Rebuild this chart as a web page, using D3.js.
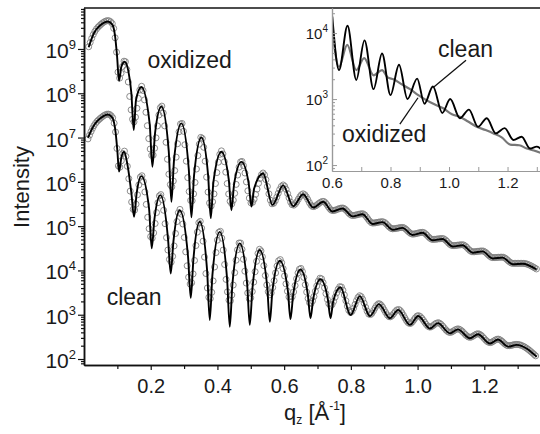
<!DOCTYPE html>
<html>
<head>
<meta charset="utf-8">
<script src="https://cdn.jsdelivr.net/npm/d3@7"></script>
<style>
  html, body { margin: 0; padding: 0; background: #fff; }
  svg { display: block; font-family: "Liberation Sans", Arial, sans-serif; }
</style>
</head>
<body>
<svg id="chart" width="540" height="434"></svg>
<script>
// Values. Intensities are kept as log10 (decades).

// main panel: fitted curves (black lines)
const qCleanFit = [0.012,0.03,0.05,0.072,0.085,0.095,0.100,0.105,0.112,0.120,0.130,0.142,0.150,0.158,0.172,0.195,0.203,0.211,0.229,0.252,0.260,0.268,0.287,0.312,0.320,0.328,0.347,0.369,0.377,0.385,0.407,0.429,0.437,0.445,0.467,0.489,0.497,0.505,0.527,0.549,0.557,0.565,0.587,0.611,0.619,0.627,0.649,0.671,0.679,0.687,0.709,0.731,0.739,0.747,0.769,0.799,0.827,0.857,0.884,0.917,0.942,0.977,1.002,1.037,1.061,1.097,1.121,1.157,1.181,1.217,1.241,1.272,1.297,1.357]
const logCleanFit = [7.00,7.28,7.44,7.52,7.45,7.10,6.70,6.23,6.55,6.68,6.40,5.75,5.21,5.75,6.13,5.40,4.50,5.15,5.70,4.70,3.93,4.65,5.36,4.30,3.38,4.25,5.10,4.00,2.88,3.90,4.87,3.80,2.73,3.70,4.61,3.70,2.77,3.60,4.46,3.65,2.84,3.55,4.22,3.55,2.90,3.45,4.02,3.45,2.92,3.35,3.80,3.35,2.92,3.30,3.62,2.99,3.42,2.97,3.24,2.92,3.11,2.77,2.97,2.69,2.81,2.58,2.67,2.47,2.56,2.35,2.44,2.28,2.32,2.05]

const qOxFit = [0.014,0.03,0.05,0.072,0.085,0.093,0.099,0.105,0.112,0.122,0.133,0.142,0.149,0.156,0.172,0.197,0.205,0.213,0.232,0.254,0.262,0.270,0.292,0.314,0.322,0.330,0.352,0.372,0.380,0.388,0.412,0.434,0.442,0.450,0.472,0.494,0.502,0.510,0.537,0.565,0.597,0.627,0.657,0.687,0.717,0.745,0.775,0.805,0.835,0.865,0.895,0.925,0.955,0.985,1.015,1.045,1.075,1.105,1.135,1.165,1.195,1.225,1.255,1.285,1.315,1.357]
const logOxFit = [9.04,9.36,9.54,9.62,9.55,9.30,8.85,8.28,8.60,8.71,8.50,8.00,7.17,7.85,8.14,7.30,6.34,7.10,7.70,6.70,5.55,6.50,7.32,6.30,5.20,6.15,7.00,6.15,5.18,6.00,6.68,6.05,5.36,5.95,6.45,5.95,5.44,5.85,6.19,5.48,5.92,5.45,5.72,5.42,5.55,5.33,5.40,5.22,5.27,5.05,5.09,4.92,4.96,4.80,4.85,4.68,4.71,4.54,4.57,4.40,4.43,4.27,4.29,4.14,4.15,4.02]

// main panel: measured data (open circles), peaks and minima
const qCleanData = [0.012,0.03,0.05,0.072,0.085,0.095,0.105,0.120,0.150,0.172,0.203,0.229,0.260,0.287,0.320,0.347,0.377,0.407,0.437,0.467,0.497,0.527,0.557,0.587,0.619,0.649,0.679,0.709,0.739,0.769,0.799,0.827,0.857,0.884,0.917,0.942,0.977,1.002,1.037,1.061,1.097,1.121,1.157,1.181,1.217,1.241,1.272,1.297,1.357]
const logCleanData = [6.97,7.27,7.44,7.53,7.46,7.10,6.30,6.70,5.35,6.15,4.72,5.72,4.18,5.38,3.68,5.12,3.35,4.90,3.30,4.64,3.35,4.48,3.45,4.25,3.35,4.05,3.25,3.83,3.20,3.64,3.05,3.43,3.00,3.25,2.95,3.12,2.80,2.98,2.72,2.82,2.60,2.68,2.49,2.57,2.37,2.45,2.30,2.33,2.05]

const qOxData = [0.014,0.03,0.05,0.072,0.085,0.095,0.105,0.122,0.149,0.172,0.205,0.232,0.262,0.292,0.322,0.352,0.380,0.412,0.442,0.472,0.502,0.537,0.565,0.597,0.627,0.657,0.687,0.717,0.745,0.775,0.805,0.835,0.865,0.895,0.925,0.955,0.985,1.015,1.045,1.075,1.105,1.135,1.165,1.195,1.225,1.255,1.285,1.315,1.357]
const logOxData = [9.05,9.36,9.55,9.64,9.57,9.15,8.33,8.74,7.35,8.16,6.58,7.72,5.88,7.34,5.55,7.02,5.45,6.70,5.50,6.47,5.52,6.20,5.50,5.93,5.47,5.73,5.44,5.56,5.35,5.41,5.24,5.28,5.07,5.10,4.94,4.97,4.82,4.86,4.70,4.72,4.56,4.58,4.42,4.44,4.29,4.30,4.16,4.16,4.03]

// inset: raw curves, clean (black) and oxidized (grey)
const qInsetClean = [0.601,0.624,0.653,0.683,0.711,0.742,0.771,0.800,0.829,0.858,0.891,0.916,0.945,0.977,1.004,1.037,1.068,1.099,1.129,1.160,1.19,1.22,1.248,1.277,1.30,1.33]
const logInsetClean = [4.25,3.44,4.11,3.29,3.89,3.15,3.69,3.06,3.52,3.00,3.31,2.93,3.19,2.79,3.00,2.71,2.84,2.58,2.71,2.48,2.56,2.38,2.43,2.25,2.28,2.15]

const qInsetOx = [0.601,0.624,0.652,0.683,0.71,0.742,0.771,0.79,0.81,0.84,0.867,0.895,0.924,0.95,0.98,1.01,1.038,1.065,1.095,1.125,1.152,1.18,1.209,1.24,1.266,1.29,1.33]
const logInsetOx = [4.05,3.49,3.82,3.44,3.62,3.36,3.44,3.33,3.30,3.22,3.15,3.06,2.98,2.92,2.86,2.77,2.73,2.66,2.58,2.53,2.48,2.42,2.31,2.30,2.25,2.22,2.16]

// ticks
const xMajor = [0.2, 0.4, 0.6, 0.8, 1.0, 1.2]
const xMinor = [0.1, 0.3, 0.5, 0.7, 0.9, 1.1, 1.3]
const yDecades = [2, 3, 4, 5, 6, 7, 8, 9]
const insetXTicks = [0.6, 0.7, 0.8, 0.9, 1.0, 1.1, 1.2, 1.3]
const insetDecades = [2, 3, 4]

const svg = d3.select('#chart')
const pts = (qs, logs) => qs.map((q, i) => [q, Math.pow(10, logs[i])])

// ---- main panel ----
const x = d3.scaleLinear().domain([0, 1.37]).range([84, 541])
const y = d3.scaleLog().domain([Math.pow(10, 1.865), Math.pow(10, 9.925)]).range([365, 8])

const defs = svg.append('defs')
defs.append('clipPath').attr('id', 'mainClip')
    .append('rect').attr('x', 84).attr('y', 8).attr('width', 460).attr('height', 357)
defs.append('clipPath').attr('id', 'insetClip')
    .append('rect').attr('x', 332).attr('y', 8).attr('width', 212).attr('height', 163)

const line = d3.line().x(d => x(d[0])).y(d => y(d[1])).curve(d3.curveMonotoneX)
const plot = svg.append('g').attr('clip-path', 'url(#mainClip)')

// put an open circle every dx pixels of q along a measured curve
function markersAlong(node, dx) {
    const len = node.getTotalLength()
    const out = []
    let next = -Infinity
    for (let s = 0; s <= len; s += 0.5) {
        const p = node.getPointAtLength(s)
        if (p.x >= next) { out.push([p.x, p.y]); next = p.x + dx }
    }
    return out
}

;[pts(qOxData, logOxData), pts(qCleanData, logCleanData)].forEach(series => {
    const guide = plot.append('path').attr('d', line(series)).attr('fill', 'none').attr('stroke', 'none')
    plot.append('g').selectAll('circle')
        .data(markersAlong(guide.node(), 1.4))
        .join('circle')
        .attr('cx', d => d[0]).attr('cy', d => d[1]).attr('r', 3)
        .attr('fill', 'none').attr('stroke', '#7f7f7f').attr('stroke-width', 0.9)
})

;[pts(qOxFit, logOxFit), pts(qCleanFit, logCleanFit)].forEach(series => {
    plot.append('path').attr('d', line(series))
        .attr('fill', 'none').attr('stroke', '#000').attr('stroke-width', 1.9)
        .attr('stroke-linejoin', 'round')
})

// axes
const axisStyle = g => {
    g.select('.domain').attr('stroke', '#111').attr('stroke-width', 1.5)
    g.selectAll('.tick line').attr('stroke', '#111').attr('stroke-width', 1.2)
    g.selectAll('.tick text').attr('fill', '#1a1a1a')
}

svg.append('g').attr('transform', 'translate(0,365)')
    .call(d3.axisBottom(x).tickValues(xMinor).tickSize(4).tickSizeOuter(0).tickFormat(''))
    .call(axisStyle)
svg.append('g').attr('transform', 'translate(0,365)')
    .call(d3.axisBottom(x).tickValues(xMajor).tickSize(5).tickSizeOuter(0).tickPadding(9).tickFormat(d3.format('.1f')))
    .call(axisStyle)
    .call(g => g.selectAll('.tick text').style('font-size', '20px').attr('font-family', null))

const yMinor = []
for (let e = 1; e <= 9; e++)
    for (let k = 2; k <= 9; k++) {
        const v = k * Math.pow(10, e)
        if (v >= y.domain()[0] && v <= y.domain()[1]) yMinor.push(v)
    }

svg.append('g').attr('transform', 'translate(84,0)')
    .call(d3.axisLeft(y).tickValues(yMinor).tickSize(3).tickSizeOuter(0).tickFormat(''))
    .call(axisStyle)
svg.append('g').attr('transform', 'translate(84,0)')
    .call(d3.axisLeft(y).tickValues(yDecades.map(e => Math.pow(10, e))).tickSize(6).tickSizeOuter(0).tickFormat(''))
    .call(axisStyle)

const yLabels = svg.append('g').attr('fill', '#1a1a1a')
yDecades.forEach(e => {
    const t = yLabels.append('text').attr('x', 76).attr('y', y(Math.pow(10, e)) + 9)
        .attr('text-anchor', 'end').style('font-size', '21px')
    t.append('tspan').text('10')
    t.append('tspan').attr('dy', -9).style('font-size', '13px').text(e)
})

// top frame line
svg.append('line').attr('x1', 84).attr('x2', 541).attr('y1', 8).attr('y2', 8)
    .attr('stroke', '#111').attr('stroke-width', 1.5)

// axis titles
svg.append('text').attr('transform', 'translate(29,187) rotate(-90)')
    .attr('text-anchor', 'middle').style('font-size', '22px').attr('fill', '#1a1a1a')
    .text('Intensity')

const xt = svg.append('text').attr('x', 315).attr('y', 420).attr('text-anchor', 'middle')
    .style('font-size', '22px').attr('fill', '#1a1a1a')
xt.append('tspan').text('q')
xt.append('tspan').attr('dy', 4).style('font-size', '12px').text('z')
xt.append('tspan').attr('dy', -4).text(' [Å')
xt.append('tspan').attr('dy', -10).style('font-size', '12px').text('-1')
xt.append('tspan').attr('dy', 10).text(']')

// curve labels
svg.append('text').attr('x', x(0.19)).attr('y', 68).style('font-size', '23px').attr('fill', '#1a1a1a').text('oxidized')
svg.append('text').attr('x', x(0.068)).attr('y', 305).style('font-size', '23px').attr('fill', '#1a1a1a').text('clean')

// ---- inset ----
const xi = d3.scaleLinear().domain([0.6, 1.34]).range([332, 548.5])
const yi = d3.scaleLog().domain([Math.pow(10, 1.91), Math.pow(10, 4.38)]).range([171, 8])
const lineI = d3.line().x(d => xi(d[0])).y(d => yi(d[1])).curve(d3.curveMonotoneX)

const inset = svg.append('g')
const insetPlot = inset.append('g').attr('clip-path', 'url(#insetClip)')
insetPlot.append('path').attr('d', lineI(pts(qInsetOx, logInsetOx)))
    .attr('fill', 'none').attr('stroke', '#777').attr('stroke-width', 2.2).attr('stroke-linejoin', 'round')
insetPlot.append('path').attr('d', lineI(pts(qInsetClean, logInsetClean)))
    .attr('fill', 'none').attr('stroke', '#000').attr('stroke-width', 1.9).attr('stroke-linejoin', 'round')

const insetStyle = g => {
    g.select('.domain').attr('stroke', '#999').attr('stroke-width', 1.2)
    g.selectAll('.tick line').attr('stroke', '#999')
    g.selectAll('.tick text').attr('fill', '#1a1a1a').attr('font-family', null).style('font-size', '15px')
}

const yiMinor = []
for (let e = 1; e <= 4; e++)
    for (let k = 2; k <= 9; k++) {
        const v = k * Math.pow(10, e)
        if (v >= yi.domain()[0] && v <= yi.domain()[1]) yiMinor.push(v)
    }

inset.append('g').attr('transform', 'translate(332,0)')
    .call(d3.axisLeft(yi).tickValues(yiMinor).tickSize(-3).tickSizeOuter(0).tickFormat(''))
    .call(insetStyle)
inset.append('g').attr('transform', 'translate(332,0)')
    .call(d3.axisLeft(yi).tickValues(insetDecades.map(e => Math.pow(10, e))).tickSize(-5).tickSizeOuter(0).tickFormat(''))
    .call(insetStyle)
inset.append('g').attr('transform', 'translate(0,171)')
    .call(d3.axisBottom(xi).tickValues(insetXTicks).tickSize(-4).tickSizeOuter(0).tickPadding(6)
        .tickFormat(d => [0.6, 0.8, 1.0, 1.2].some(v => Math.abs(v - d) < 1e-9) ? d3.format('.1f')(d) : ''))
    .call(insetStyle)

const yiLabels = inset.append('g').attr('fill', '#1a1a1a')
insetDecades.forEach(e => {
    const t = yiLabels.append('text').attr('x', 328).attr('y', yi(Math.pow(10, e)) + 6)
        .attr('text-anchor', 'end').style('font-size', '15px')
    t.append('tspan').text('10')
    t.append('tspan').attr('dy', -7).style('font-size', '10px').text(e)
})

// inset annotations
inset.append('text').attr('x', 438).attr('y', 57).style('font-size', '23px').attr('fill', '#1a1a1a').text('clean')
inset.append('text').attr('x', 342).attr('y', 142).style('font-size', '23px').attr('fill', '#1a1a1a').text('oxidized')
inset.append('line')
    .attr('x1', xi(1.058)).attr('y1', yi(Math.pow(10, 3.59)))
    .attr('x2', xi(0.945)).attr('y2', yi(Math.pow(10, 3.17)))
    .attr('stroke', '#111').attr('stroke-width', 1.3)
inset.append('line')
    .attr('x1', xi(0.832)).attr('y1', yi(Math.pow(10, 2.62)))
    .attr('x2', xi(0.894)).attr('y2', yi(Math.pow(10, 3.02)))
    .attr('stroke', '#111').attr('stroke-width', 1.3)
</script>
</body>
</html>
